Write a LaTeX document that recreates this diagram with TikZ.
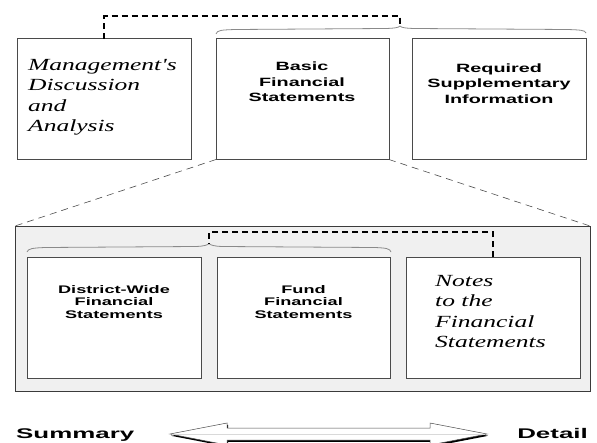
\documentclass[tikz,border=0pt]{standalone}
\usepackage{fontspec}
\newfontfamily\bsf[FakeStretch=1.65]{Liberation Sans}
\newfontfamily\bsfw[FakeStretch=1.85]{Liberation Sans}
\newfontfamily\scr[FakeStretch=1.5]{Liberation Serif}
\usetikzlibrary{calc}
\definecolor{boxline}{HTML}{4A4A4A}
\definecolor{panelfill}{HTML}{F0F0F0}
\definecolor{bracecol}{HTML}{8A8A8A}
\begin{document}
\begin{tikzpicture}[x=1pt,y=-1pt,
  box/.style={draw=boxline, line width=0.9pt, fill=white, minimum width=#1, minimum height=121pt, inner sep=0pt, outer sep=0pt},
  panel/.style={draw=boxline!80!black, line width=1pt, fill=panelfill, minimum width=575pt, minimum height=165pt, inner sep=0pt, outer sep=0pt},
  bigtxt/.style={inner sep=0pt, anchor=north, align=center, font=\bsf\bfseries\fontsize{12}{15.5}\selectfont},
  smalltxt/.style={inner sep=0pt, anchor=north, align=center, font=\bsf\bfseries\fontsize{11}{12.5}\selectfont},
  scripttxt/.style={inner sep=0pt, anchor=north west, align=left, font=\scr\itshape\fontsize{17}{20.5}\selectfont},
  endtxt/.style={inner sep=0pt, font=\bsfw\bfseries\fontsize{14}{16}\selectfont},
  linkline/.style={black, line width=1.2pt, dash pattern=on 6pt off 4pt},
  zoomline/.style={boxline, line width=0.6pt, dash pattern=on 7pt off 5pt},
  bracket/.style={bracecol, line width=0.8pt}
]
\useasboundingbox (0,0) rectangle (597,442);

% top row
\node[box=174pt] (mda) at (104,99) {};
\node[box=173pt] (bfs) at (302.5,99) {};
\node[box=174pt] (rsi) at (499,99) {};

\node[scripttxt] (mdatext) at (28,59) {Management's\\Discussion\\and\\Analysis};
\node[bigtxt] (bfstext) at (302,62) {Basic\\Financial\\Statements};
\node[bigtxt] (rsitext) at (499,63.5) {Required\\Supplementary\\Information};

% top brace and dashed link
\coordinate (tpk) at (400,26);
\coordinate (tbl) at (216,34);
\coordinate (tbr) at (586,33);
\draw[bracket] (tbl) .. controls (217,30) and (222,30) .. (235,29.5) -- (385,28.5)
  .. controls (395,28.3) and (399,27.5) .. (tpk)
  .. controls (401,27.5) and (405,28.3) .. (415,28.5) -- (568,29.5)
  .. controls (580,30) and (585,30) .. (tbr);
\draw[linkline] (mda.north) |- ($(tpk)+(0,-10)$) -- (tpk);

% panel
\node[panel] (pan) at (302.5,308.5) {};
\draw[zoomline] (bfs.south west) -- (pan.north west);
\draw[zoomline] (bfs.south east) -- (pan.north east);

\node[box=174pt] (dw) at (114,317.5) {};
\node[box=173pt] (fund) at (303.5,317.5) {};
\node[box=174pt] (notes) at (493,317.5) {};

\node[smalltxt] (dwtext) at (114,285) {District-Wide\\Financial\\Statements};
\node[smalltxt] (fundtext) at (303.5,285) {Fund\\Financial\\Statements};
\node[scripttxt] (notestext) at (435,275) {Notes\\to the\\Financial\\Statements};

% inner brace and dashed link
\coordinate (ipk) at (209,243.5);
\coordinate (ibl) at (27,252);
\coordinate (ibr) at (391,252);
\draw[bracket] (ibl) .. controls (28,248.5) and (33,248) .. (45,247.5) -- (195,246.5)
  .. controls (204,246.3) and (208,245) .. (ipk)
  .. controls (210,245) and (214,246.3) .. (223,246.5) -- (375,247.5)
  .. controls (386,248) and (390,248.5) .. (ibr);
\draw[linkline] (notes.north) |- ($(ipk)+(0,-11.5)$) -- (ipk);

% bottom double arrow
\begin{scope}
\clip (0,0) rectangle (597,442);
\fill[black] ($(170,434)+(1.2,1.8)$) -- ++(57,-11) -- ++(0,5) -- ++(203,0) -- ++(0,-5) -- ++(57,11)
  -- ++(-57,11) -- ++(0,-5) -- ++(-203,0) -- ++(0,5) -- cycle;
\filldraw[fill=white, draw=boxline, line width=0.5pt] (170,434) -- (227,423) -- (227,428) -- (430,428) -- (430,423) -- (487,434)
  -- (430,445) -- (430,440) -- (227,440) -- (227,445) -- cycle;
\draw[black!15, line width=0.6pt] (172,434) -- (485,434);
\end{scope}

\node[endtxt, anchor=base west] (summary) at (16,438) {Summary};
\node[endtxt, anchor=base east] (detail) at (588,438) {Detail};
\end{tikzpicture}
\end{document}
